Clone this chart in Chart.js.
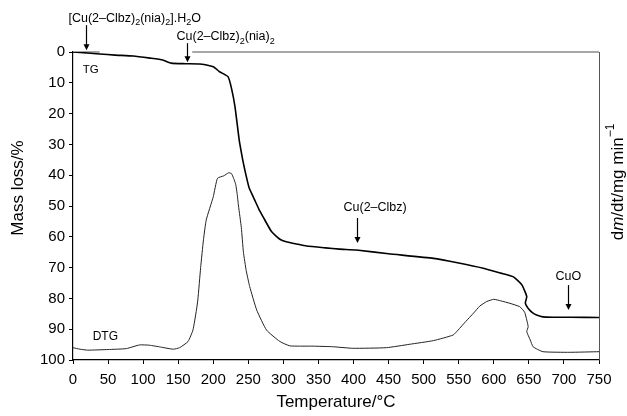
<!DOCTYPE html>
<html><head><meta charset="utf-8">
<script src="https://cdn.jsdelivr.net/npm/chart.js@4/dist/chart.umd.min.js"></script>
<style>html,body{margin:0;padding:0;background:#fff}#wrap{width:627px;height:416px}</style>
</head><body><div id="wrap"><canvas id="c" width="627" height="416"></canvas></div>
<script>
// ---- data ----
const tgTemp = [0, 20, 38, 60, 86, 110, 128, 140, 160, 181, 200, 209, 221, 226, 231, 237, 242, 245, 251, 259, 265, 271, 283, 295, 304, 320, 333, 360, 380, 404, 450, 514, 550, 585, 610, 628, 640, 647, 645, 650, 656, 661, 670, 685, 710, 750];
const tgMass = [0, 0.3, 0.65, 1.0, 1.3, 2.0, 2.6, 3.6, 3.8, 3.9, 4.8, 6.4, 8.0, 11.8, 17.8, 28.6, 35, 38.3, 44, 48, 51, 53.5, 58.3, 60.8, 61.6, 62.4, 63, 63.6, 64, 64.3, 65.5, 67, 68.5, 70.2, 71.8, 73, 75.6, 79.4, 81.5, 83.5, 84.8, 85.4, 86.0, 86.1, 86.1, 86.2];

const dtgTemp = [0, 10, 21, 50, 76, 95, 109, 125, 143, 152, 164, 171, 176, 178, 182, 186, 190, 200, 206, 215, 222, 226, 229, 232, 234, 236, 240, 243, 247, 252, 262, 276, 295, 309, 323, 342, 371, 399, 447, 480, 514, 542, 549, 560, 571, 580, 590, 600, 610, 623, 637, 644, 647, 649, 647, 652, 656, 670, 708, 750];
const dtgMass = [96, 96.5, 96.8, 96.6, 96.3, 95.1, 95.2, 95.8, 96.5, 96, 94, 90.3, 83.8, 80.5, 70, 61, 54.5, 47, 41, 40.2, 39.2, 39.5, 41, 43, 46, 50, 57, 65, 71, 76.2, 83.8, 90.3, 94, 95.4, 95.5, 95.5, 95.7, 96.2, 96, 94.9, 93.7, 91.9, 90.3, 87.5, 84.8, 82.5, 81, 80.3, 80.8, 81.6, 82.7, 84.5, 87, 89.2, 90.8, 93.5, 95.7, 97.3, 97.5, 97.3];

const xTickValues = [0, 50, 100, 150, 200, 250, 300, 350, 400, 450, 500, 550, 600, 650, 700, 750];
const yTickValues = [0, 10, 20, 30, 40, 50, 60, 70, 80, 90, 100];

const xTitle = 'Temperature/°C';
const yTitle = 'Mass loss/%';
const seriesNames = ['TG', 'DTG'];

// annotation texts: segments [text, isSubscript]
const annoTexts = [
  [['[Cu(2\u2013Clbz)',0],['2',1],['(nia)',0],['2',1],['].H',0],['2',1],['O',0]],
  [['Cu(2\u2013Clbz)',0],['2',1],['(nia)',0],['2',1]],
  [['Cu(2\u2013Clbz)',0]],
  [['CuO',0]]
];
// arrow tips in data coordinates (temperature, mass loss)
const annoTipT = [18, 162, 405, 706];
const annoTipM = [-0.6, 3.3, 62.0, 83.8];

// ---- layout/style config ----
const FONT = '"Liberation Sans", Arial, Helvetica, sans-serif';
const annoStyle = [
  {len: 25, dx: -18, dy: -3.5},
  {len: 19, dx: -11, dy: -3},
  {len: 25, dx: -14, dy: -7},
  {len: 25, dx: -13, dy: -5}
];

function drawRich(ctx, segs, x, y, size) {
  let cx = x;
  for (const [t, sub] of segs) {
    if (sub) {
      ctx.font = (size * 0.72) + 'px ' + FONT;
      ctx.fillText(t, cx, y + size * 0.28);
    } else {
      ctx.font = size + 'px ' + FONT;
      ctx.fillText(t, cx, y);
    }
    cx += ctx.measureText(t).width;
  }
}

const decor = {
  id: 'decor',
  beforeDatasetsDraw(chart) {
    const {ctx, chartArea: a, scales: {x, y}} = chart;
    ctx.save();
    ctx.strokeStyle = '#8a8a8a';
    ctx.lineWidth = 1.5;
    ctx.beginPath();
    ctx.moveTo(a.left, a.top); ctx.lineTo(x.getPixelForValue(38), a.top);
    ctx.moveTo(x.getPixelForValue(170), a.top); ctx.lineTo(a.right, a.top);
    ctx.stroke();
    ctx.strokeStyle = '#555';
    ctx.lineWidth = 1;
    ctx.beginPath();
    ctx.moveTo(a.right + 0.5, a.top); ctx.lineTo(a.right + 0.5, a.bottom);
    ctx.stroke();
    ctx.restore();
  },
  afterDraw(chart) {
    const {ctx, chartArea: a, scales: {x, y}} = chart;
    ctx.save();
    ctx.fillStyle = '#000';
    ctx.strokeStyle = '#000';
    // annotations with arrows
    annoTexts.forEach((segs, i) => {
      const st = annoStyle[i];
      const px = Math.round(x.getPixelForValue(annoTipT[i])) + 0.5;
      const tip = y.getPixelForValue(annoTipM[i]);
      const top = tip - st.len;
      ctx.lineWidth = 1.2;
      ctx.beginPath(); ctx.moveTo(px, top); ctx.lineTo(px, tip - 5); ctx.stroke();
      ctx.beginPath(); ctx.moveTo(px - 3, tip - 6); ctx.lineTo(px + 3, tip - 6); ctx.lineTo(px, tip); ctx.closePath(); ctx.fill();
      ctx.textBaseline = 'alphabetic';
      ctx.textAlign = 'left';
      drawRich(ctx, segs, px + st.dx, top + st.dy, 12.5);
    });
    // series labels
    ctx.font = '11.5px ' + FONT;
    ctx.textBaseline = 'middle';
    ctx.fillText(seriesNames[0], x.getPixelForValue(14), y.getPixelForValue(5.9));
    ctx.font = '12px ' + FONT;
    ctx.fillText(seriesNames[1], x.getPixelForValue(28), y.getPixelForValue(92.5));
    // axis titles
    ctx.font = '17px ' + FONT;
    ctx.textAlign = 'center';
    ctx.textBaseline = 'middle';
    ctx.fillText(xTitle, (a.left + a.right) / 2, 402);
    ctx.save();
    ctx.translate(18, 188);
    ctx.rotate(-Math.PI / 2);
    ctx.fillText(yTitle, 0, 0);
    ctx.restore();
    // right title: d m/dt/mg min^-1
    ctx.save();
    ctx.translate(618, 182);
    ctx.rotate(-Math.PI / 2);
    ctx.textAlign = 'left';
    const parts = [['d', '17px'], ['m', 'italic 17px'], ['/dt/mg min', '17px'], ['\u22121', '12px', -7]];
    ctx.font = '17px ' + FONT;
    let total = 0;
    parts.forEach(p => { ctx.font = p[1] + ' ' + FONT; total += ctx.measureText(p[0]).width; });
    let cx = -total / 2;
    parts.forEach(p => { ctx.font = p[1] + ' ' + FONT; ctx.fillText(p[0], cx, p[2] || 0); cx += ctx.measureText(p[0]).width; });
    ctx.restore();
    ctx.restore();
  }
};

const toPts = (xs, ys) => xs.map((v, i) => ({x: v, y: ys[i]}));

new Chart(document.getElementById('c'), {
  type: 'scatter',
  data: {
    datasets: [
      {label: seriesNames[0], data: toPts(tgTemp, tgMass), showLine: true, borderColor: '#000', borderWidth: 1.6, pointRadius: 0, tension: 0.15, fill: false},
      {label: seriesNames[1], data: toPts(dtgTemp, dtgMass), showLine: true, borderColor: '#222', borderWidth: 1, pointRadius: 0, tension: 0.15, fill: false}
    ]
  },
  options: {
    responsive: false,
    animation: false,
    devicePixelRatio: 1,
    layout: {padding: {top: 52, right: 28, left: 0, bottom: 0}},
    plugins: {legend: {display: false}, tooltip: {enabled: false}},
    scales: {
      x: {
        type: 'linear', min: 0, max: 750,
        afterBuildTicks: s => { s.ticks = xTickValues.map(v => ({value: v})); },
        afterFit: s => { s.height = 56; },
        ticks: {color: '#000', font: {family: FONT, size: 15}, padding: 7, maxRotation: 0, autoSkip: false},
        grid: {drawOnChartArea: false, tickLength: 4, color: '#000'},
        border: {color: '#000', width: 1.2}
      },
      y: {
        type: 'linear', min: 0, max: 100, reverse: true,
        afterBuildTicks: s => { s.ticks = yTickValues.map(v => ({value: v})); },
        afterFit: s => { s.width = 73; },
        ticks: {color: '#000', font: {family: FONT, size: 15}, padding: 4, autoSkip: false},
        grid: {drawOnChartArea: false, tickLength: 4, color: '#000'},
        border: {color: '#000', width: 1.2}
      }
    }
  },
  plugins: [decor]
});
</script></body></html>
